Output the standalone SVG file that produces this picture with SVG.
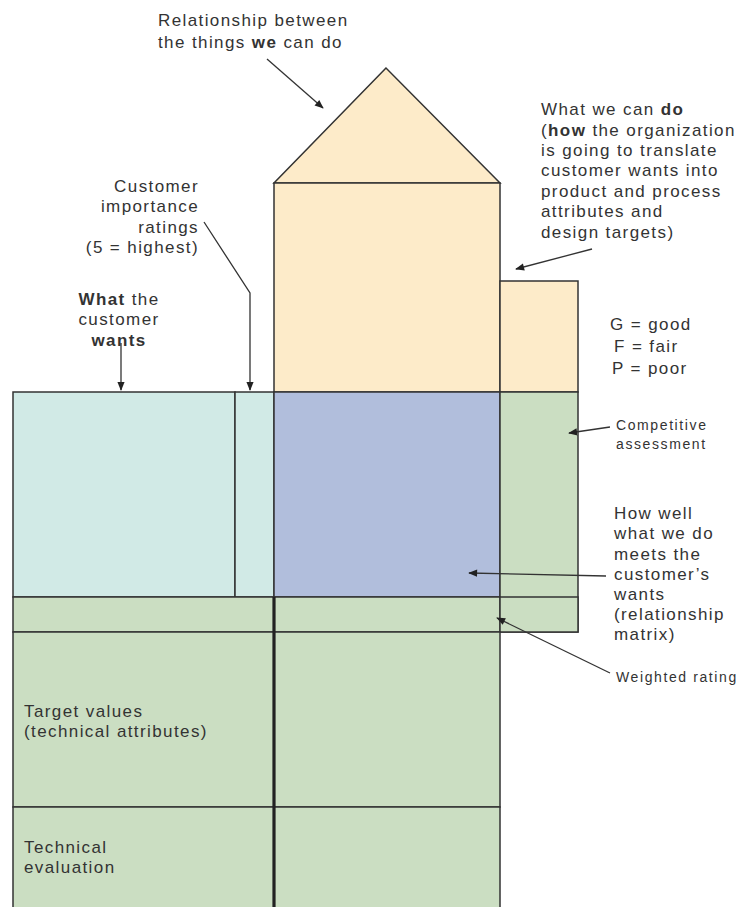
<svg xmlns="http://www.w3.org/2000/svg" width="740" height="907" viewBox="0 0 740 907">
<style>
.box{stroke:#333;stroke-width:1.5}
.cream{fill:#fdebc9}
.cyan{fill:#d1eae6}
.blue{fill:#b1bedc}
.green{fill:#cbdec2}
.t{font-family:"Liberation Sans",Arial,sans-serif;font-size:17px;letter-spacing:1.4px;fill:#333}
.s{font-size:14px;letter-spacing:1.6px}
.b{font-weight:bold}
.c{stroke:#333;stroke-width:1.3;fill:none}
</style>
<defs>
<marker id="ah" viewBox="0 0 10 10" refX="9" refY="5" markerWidth="9" markerHeight="9" markerUnits="userSpaceOnUse" orient="auto"><path d="M0,1 L10,5 L0,9 z" fill="#222"/></marker>
<marker id="ah2" viewBox="0 0 10 10" refX="9" refY="5" markerWidth="12" markerHeight="9" markerUnits="userSpaceOnUse" orient="auto"><path d="M0,1 L10,5 L0,9 z" fill="#222"/></marker>
</defs>
<g id="roof"><polygon class="box cream" points="386,68 274,183 500,183"/></g>
<g id="hows"><rect class="box cream" x="274" y="183" width="226" height="209"/></g>
<g id="comp-top"><rect class="box cream" x="500" y="281" width="78" height="111"/></g>
<g id="whats"><rect class="box cyan" x="13" y="392" width="222" height="205"/></g>
<g id="importance"><rect class="box cyan" x="235" y="392" width="39" height="205"/></g>
<g id="matrix"><rect class="box blue" x="274" y="392" width="226" height="205"/></g>
<g id="competitive"><rect class="box green" x="500" y="392" width="78" height="240"/></g>
<g id="weighted-left"><rect class="box green" x="13" y="597" width="261" height="35"/></g>
<g id="weighted-right"><rect class="box green" x="274" y="597" width="226" height="35"/></g>
<g id="weighted-ext"><rect class="box green" x="500" y="597" width="78" height="35"/></g>
<g id="target-left"><rect class="box green" x="13" y="632" width="261" height="175"/></g>
<g id="target-right"><rect class="box green" x="274" y="632" width="226" height="175"/></g>
<g id="eval-left"><rect class="box green" x="13" y="807" width="261" height="110"/></g>
<g id="eval-right"><rect class="box green" x="274" y="807" width="226" height="110"/></g>
<line x1="274" y1="597" x2="274" y2="907" stroke="#222" stroke-width="3.2"/>

<g id="connectors">
<line class="c" x1="267" y1="59" x2="323" y2="108" marker-end="url(#ah2)"/>
<polyline class="c" points="204,222 250,293 250,390" marker-end="url(#ah)"/>
<line class="c" x1="121" y1="343" x2="121" y2="390" marker-end="url(#ah)"/>
<line class="c" x1="592" y1="249" x2="516" y2="269" marker-end="url(#ah2)"/>
<line class="c" x1="610" y1="427" x2="569" y2="433" marker-end="url(#ah)"/>
<line class="c" x1="606" y1="576" x2="469" y2="573" marker-end="url(#ah2)"/>
<line class="c" x1="610" y1="673" x2="497" y2="618" marker-end="url(#ah2)"/>
</g>

<g id="labels">
<text class="t" x="158" y="26">Relationship between</text>
<text class="t" x="158" y="48">the things <tspan class="b">we</tspan> can do</text>

<text class="t" text-anchor="end" x="199" y="192">Customer</text>
<text class="t" text-anchor="end" x="199" y="212">importance</text>
<text class="t" text-anchor="end" x="199" y="233">ratings</text>
<text class="t" text-anchor="end" x="199" y="253">(5 = highest)</text>

<text class="t" text-anchor="middle" x="119" y="305"><tspan class="b">What</tspan> the</text>
<text class="t" text-anchor="middle" x="119" y="325">customer</text>
<text class="t b" text-anchor="middle" x="119" y="346">wants</text>

<text class="t" x="541" y="115">What we can <tspan class="b">do</tspan></text>
<text class="t" x="541" y="136">(<tspan class="b">how</tspan> the organization</text>
<text class="t" x="541" y="156">is going to translate</text>
<text class="t" x="541" y="176">customer wants into</text>
<text class="t" x="541" y="197">product and process</text>
<text class="t" x="541" y="217">attributes and</text>
<text class="t" x="541" y="238">design targets)</text>

<text class="t" x="610" y="330">G = good</text>
<text class="t" x="614" y="352">F = fair</text>
<text class="t" x="612" y="374">P = poor</text>

<text class="t s" x="616" y="430">Competitive</text>
<text class="t s" x="616" y="449">assessment</text>

<text class="t" x="614" y="519">How well</text>
<text class="t" x="614" y="539">what we do</text>
<text class="t" x="614" y="560">meets the</text>
<text class="t" x="614" y="580">customer’s</text>
<text class="t" x="614" y="600">wants</text>
<text class="t" x="614" y="620">(relationship</text>
<text class="t" x="614" y="640">matrix)</text>

<text class="t s" x="616" y="682">Weighted rating</text>

<text class="t" x="24" y="717">Target values</text>
<text class="t" x="24" y="737">(technical attributes)</text>
<text class="t" x="24" y="853">Technical</text>
<text class="t" x="24" y="873">evaluation</text>
</g>
</svg>
